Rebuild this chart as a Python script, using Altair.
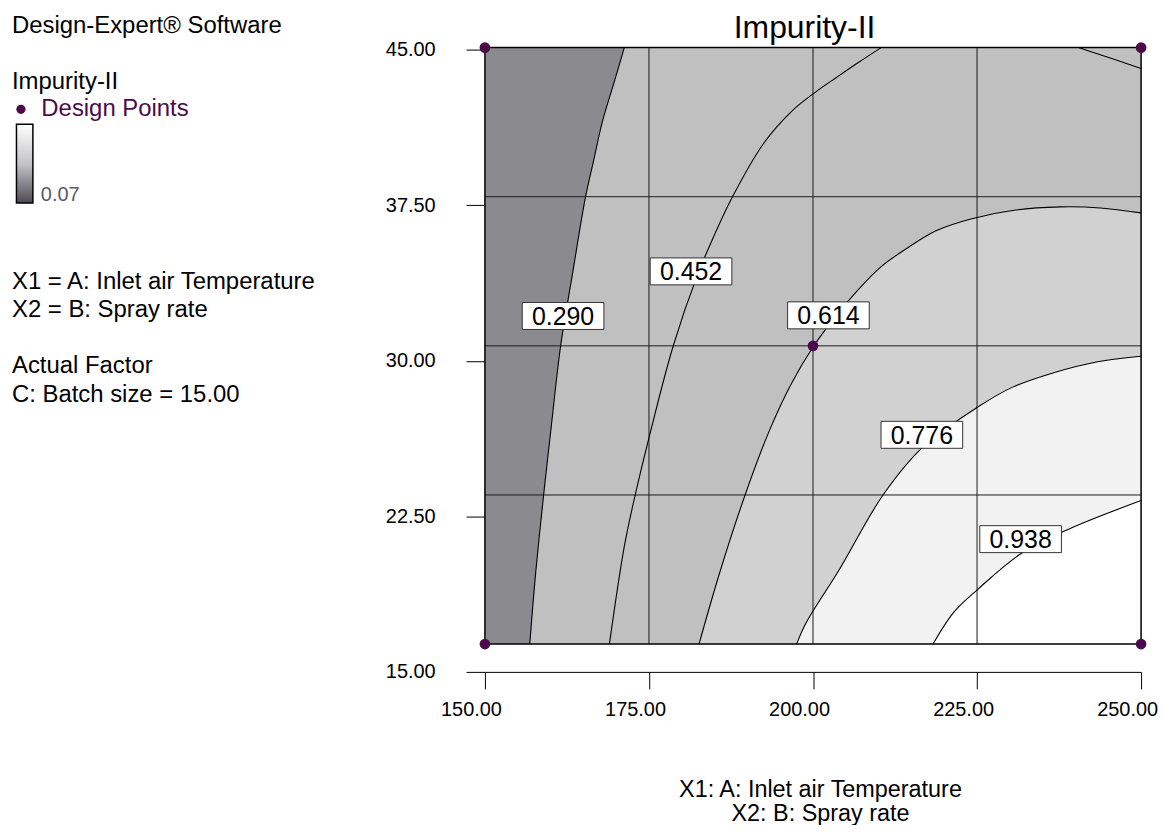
import altair as alt
import pandas as pd

FONT = "Liberation Sans"

# ---------------- data ----------------
X_LO, X_HI = 150.0, 250.0          # design range, Inlet air temperature
Y_LO, Y_HI = 16.34, 45.1           # design range, Spray rate
x_ticks = [150, 175, 200, 225, 250]
y_ticks = [15, 22.5, 30, 37.5, 45]
grid_x = [175, 200, 225]
grid_y = [23.53, 30.72, 37.91]

# contour lines
c290_x = [171.24, 169.73, 167.91, 166.54, 165.33, 163.35, 161.53, 160.17, 158.95, 157.74, 156.83]
c290_y = [45.10, 43.47, 41.54, 39.62, 37.90, 34.20, 30.70, 27.00, 23.54, 19.80, 16.34]
c452_x = [168.97, 171.24, 172.91, 175.04, 178.68, 182.47, 185.05, 187.63, 192.49, 196.74, 200.53, 203.57, 206.90, 210.39]
c452_y = [16.34, 21.05, 23.54, 26.33, 30.70, 34.20, 36.12, 37.85, 40.49, 42.03, 42.99, 43.66, 44.38, 45.10]
c614_x = [182.63, 185.66, 189.45, 193.40, 196.74, 200.08, 203.57, 206.90, 210.39, 214.19, 218.74, 224.05, 230.88, 237.71, 243.78, 250.0]
c614_y = [16.34, 19.66, 23.35, 26.67, 28.92, 30.70, 32.19, 33.43, 34.54, 35.40, 36.27, 36.84, 37.27, 37.42, 37.37, 37.13]
c776_x = [197.50, 199.01, 204.02, 210.70, 216.77, 225.11, 230.42, 236.95, 243.02, 250.0]
c776_y = [16.34, 17.40, 19.94, 23.54, 25.85, 27.77, 28.73, 29.45, 29.93, 30.22]
c938_x = [218.29, 221.47, 225.11, 231.94, 239.53, 250.0]
c938_y = [16.34, 17.88, 18.98, 20.76, 21.96, 23.26]
ctop_x = [240.44, 245.30, 250.0]
ctop_y = [45.10, 44.60, 44.09]

label_text = ["0.290", "0.452", "0.614", "0.776", "0.938"]
label_x = [161.91, 181.41, 202.35, 216.59, 231.64]
label_y = [32.16, 34.31, 32.19, 26.43, 21.40]

dp_x = [150, 250, 200, 150, 250]
dp_y = [45.1, 45.1, 30.72, 16.34, 16.34]

side_text = ["Design-Expert\u00ae Software", "Impurity-II", "Design Points", "0.07",
             "X1 = A: Inlet air Temperature", "X2 = B: Spray rate",
             "Actual Factor", "C: Batch size = 15.00"]
title_text = "Impurity-II"
xtitle_text = ["X1: A: Inlet air Temperature", "X2: B: Spray rate"]

# ---------------- styles ----------------
DARK = "#8b8a8f"
MID = "#c0c0c0"
LIGHT = "#d1d1d1"
LIGHTER = "#f2f2f2"
WHITE = "#ffffff"
PURPLE = "#4b0b4b"

xs = alt.Scale(domain=[150, 250], nice=False, zero=False)
ys = alt.Scale(domain=[15, 45.1], nice=False, zero=False)

xaxis = alt.Axis(values=x_ticks, format=".2f", title=None, grid=False, tickSize=17,
                 tickColor="black", domainColor="black", labelColor="black",
                 labelFontSize=20, labelFont=FONT, labelPadding=11, labelFlush=False,
                 labelOffset=-14, labelOverlap=False)
yaxis = alt.Axis(values=y_ticks, format=".2f", title=None, grid=False, domain=False,
                 tickSize=19, tickColor="black", labelColor="black", labelFontSize=20,
                 labelFont=FONT, labelPadding=31, labelOverlap=False, labelFlush=False)


def X(f):
    return alt.X(f, scale=xs, axis=xaxis)


def Y(f):
    return alt.Y(f, scale=ys, axis=yaxis)


box = pd.DataFrame({"x": [X_LO], "x2": [X_HI], "y": [Y_LO], "y2": [Y_HI]})
base = alt.Chart(box).mark_rect(color=MID, opacity=1).encode(
    x=X("x:Q"), x2="x2", y=Y("y:Q"), y2="y2")

interp = "catmull-rom"

df_a = pd.DataFrame({"x": c290_x, "y": c290_y, "x0": X_LO})
dark = alt.Chart(df_a).mark_area(orient="horizontal", color=DARK, opacity=1, interpolate=interp).encode(
    y=Y("y:Q"), x=X("x:Q"), x2="x0")


def below(xv, yv, col):
    d = pd.DataFrame({"x": xv, "y": yv, "y0": Y_LO})
    return alt.Chart(d).mark_area(color=col, opacity=1, interpolate=interp).encode(
        x=X("x:Q"), y=Y("y:Q"), y2="y0")


light = below(c614_x, c614_y, LIGHT)
lighter = below(c776_x, c776_y, LIGHTER)
white = below(c938_x, c938_y, WHITE)

frames = []
for name, xv, yv in [("a", c290_x, c290_y), ("b", c452_x, c452_y), ("c", c614_x, c614_y),
                     ("d", c776_x, c776_y), ("e", c938_x, c938_y), ("f", ctop_x, ctop_y)]:
    frames.append(pd.DataFrame({"x": xv, "y": yv, "c": name, "i": range(len(xv))}))
df_lines = pd.concat(frames, ignore_index=True)
lines = alt.Chart(df_lines).mark_line(color="black", strokeWidth=1.1, interpolate=interp).encode(
    x=X("x:Q"), y=Y("y:Q"), detail="c:N", order="i:Q")

gx = alt.Chart(pd.DataFrame({"x": grid_x, "y": Y_LO, "y2": Y_HI})).mark_rule(color="#1a1a1a", strokeWidth=1).encode(
    x=X("x:Q"), y=Y("y:Q"), y2="y2")
gy = alt.Chart(pd.DataFrame({"y": grid_y, "x": X_LO, "x2": X_HI})).mark_rule(color="#1a1a1a", strokeWidth=1).encode(
    y=Y("y:Q"), x=X("x:Q"), x2="x2")

border = alt.Chart(box).mark_rect(filled=False, color="black", strokeWidth=1.5).encode(
    x=X("x:Q"), x2="x2", y=Y("y:Q"), y2="y2")

df_lab = pd.DataFrame({"x": label_x, "y": label_y, "t": label_text})
lab_box = alt.Chart(df_lab).mark_point(
    shape="M-1,-0.33L1,-0.33L1,0.33L-1,0.33Z", size=82 * 82, filled=True, color="white",
    stroke="#333333", strokeWidth=1, opacity=1).encode(x=X("x:Q"), y=Y("y:Q"))
lab_txt = alt.Chart(df_lab).mark_text(font=FONT, fontSize=25, color="black", baseline="middle", dy=1).encode(
    x=X("x:Q"), y=Y("y:Q"), text="t:N")

pts = alt.Chart(pd.DataFrame({"x": dp_x, "y": dp_y})).mark_circle(size=115, color=PURPLE, opacity=1).encode(
    x=X("x:Q"), y=Y("y:Q"))

# ---------------- annotation text (pixel positions relative to plot) ----------------
side_px = [-475, -475, -445.5, -446, -475, -475, -475, -475]
side_py = [-14.3, 42, 69, 154, 242, 271, 327, 356]
side_col = ["black", "black", PURPLE, "#5a5a64", "black", "black", "black", "black"]
side_fs = [24, 24, 24, 20, 24, 24, 24, 24]
df_side = pd.DataFrame({"t": side_text, "px": side_px, "py": side_py, "col": side_col, "fs": side_fs})
side = alt.Chart(df_side).mark_text(align="left", baseline="alphabetic", font=FONT).encode(
    x=alt.X("px:Q", scale=None), y=alt.Y("py:Q", scale=None), text="t:N",
    color=alt.Color("col:N", scale=None), size=alt.Size("fs:Q", scale=None))

df_ctr = pd.DataFrame({"t": [title_text] + xtitle_text, "px": [321, 337, 337],
                       "py": [-10, 753, 777], "fs": [32, 23.5, 23.5]})
ctr = alt.Chart(df_ctr).mark_text(align="center", baseline="alphabetic", font=FONT, color="black").encode(
    x=alt.X("px:Q", scale=None), y=alt.Y("py:Q", scale=None), text="t:N",
    size=alt.Size("fs:Q", scale=None))

one = pd.DataFrame({"k": [0]})
leg_dot = alt.Chart(one).mark_circle(size=85, color=PURPLE, opacity=1).encode(
    x=alt.value(-466), y=alt.value(62))
grad = {"gradient": "linear", "x1": 0, "x2": 0, "y1": 0, "y2": 1,
        "stops": [{"offset": 0, "color": "#ffffff"}, {"offset": 0.5, "color": "#c4c4c6"},
                  {"offset": 1, "color": "#4d4a55"}]}
cbar = alt.Chart(one).mark_rect(fill=grad, stroke="black", strokeWidth=1.5).encode(
    x=alt.value(-470.5), x2=alt.value(-454), y=alt.value(77), y2=alt.value(156))

chart = alt.layer(base, dark, light, lighter, white, gx, gy, lines, border, lab_box, lab_txt, pts,
                  side, ctr, leg_dot, cbar).properties(
    width=659, height=627,
    autosize=alt.AutoSizeParams(type="none"),
    padding={"left": 479, "top": 38, "right": 18, "bottom": 152},
).configure_view(stroke=None)

chart.save("out.html", embed_options={"renderer": "svg", "actions": False})
